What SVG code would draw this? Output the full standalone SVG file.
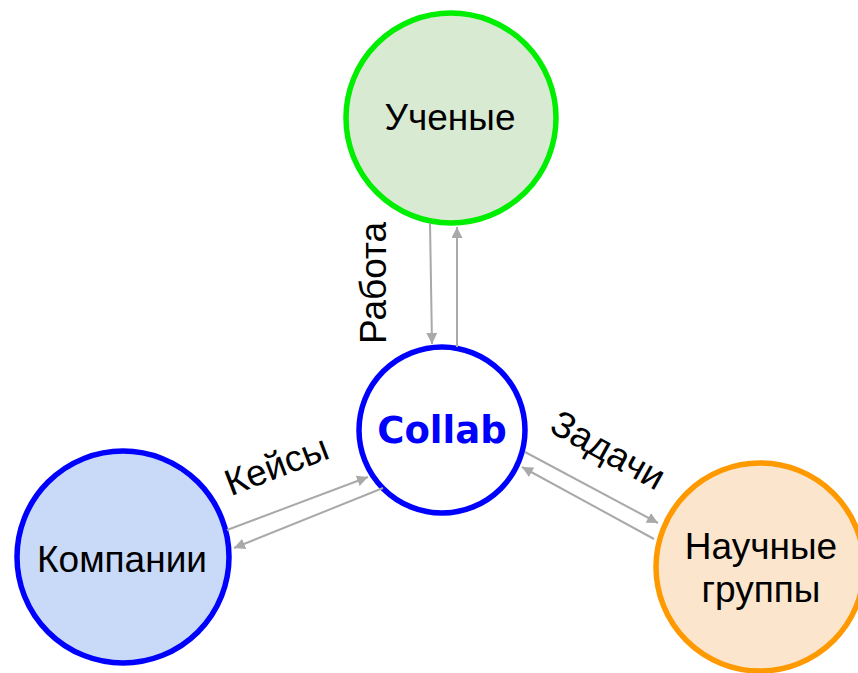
<svg xmlns="http://www.w3.org/2000/svg" width="858" height="673" viewBox="0 0 858 673">
  <style>
    .lbl { font-family: "Liberation Sans", Arial, sans-serif; font-size: 37px; fill: #000; text-anchor: middle; }
    .node-text { font-family: "Liberation Sans", Arial, sans-serif; font-size: 37px; fill: #000; text-anchor: middle; }
    .edge { stroke: #a9a9a9; stroke-width: 2; fill: none; marker-end: url(#arrow); }
  </style>
  <defs>
    <marker id="arrow" viewBox="0 0 10 10" refX="10" refY="5" markerWidth="11" markerHeight="11" markerUnits="userSpaceOnUse" orient="auto">
      <path d="M0,0 L10,5 L0,10 z" fill="#a9a9a9"/>
    </marker>
  </defs>

  <g id="scientists">
    <circle cx="451" cy="118" r="105" fill="#d9ead3" stroke="#00ee00" stroke-width="5.5"/>
    <text class="node-text" x="450" y="130">Ученые</text>
  </g>

  <g id="companies">
    <circle cx="123" cy="557" r="106" fill="#c9daf8" stroke="#0000ff" stroke-width="5.5"/>
    <text class="node-text" x="122" y="572">Компании</text>
  </g>

  <g id="research-groups">
    <circle cx="760" cy="567" r="104" fill="#fce5cd" stroke="#ff9900" stroke-width="5.5"/>
    <text class="node-text" x="761" y="559">Научные</text>
    <text class="node-text" x="761" y="602">группы</text>
  </g>

  <g id="collab">
    <circle cx="442" cy="430" r="83" fill="#ffffff" stroke="#0000ff" stroke-width="5.5"/>
    <text x="442" y="443" text-anchor="middle" font-family="DejaVu Sans, Verdana, sans-serif" font-weight="bold" font-size="37" fill="#0000ff">Collab</text>
  </g>

  <g id="connectors">
    <line class="edge" x1="430" y1="223" x2="432" y2="344"/>
    <line class="edge" x1="457" y1="347" x2="457" y2="227"/>
    <line class="edge" x1="227" y1="530" x2="368" y2="477"/>
    <line class="edge" x1="383" y1="488" x2="234" y2="548"/>
    <line class="edge" x1="525" y1="452" x2="658" y2="523"/>
    <line class="edge" x1="654" y1="539" x2="522" y2="467"/>
  </g>

  <g id="edge-labels">
    <text class="lbl" transform="translate(386,283) rotate(-90)">Работа</text>
    <text class="lbl" transform="translate(281,477) rotate(-21)">Кейсы</text>
    <text class="lbl" transform="translate(602,461) rotate(29)">Задачи</text>
  </g>
</svg>
